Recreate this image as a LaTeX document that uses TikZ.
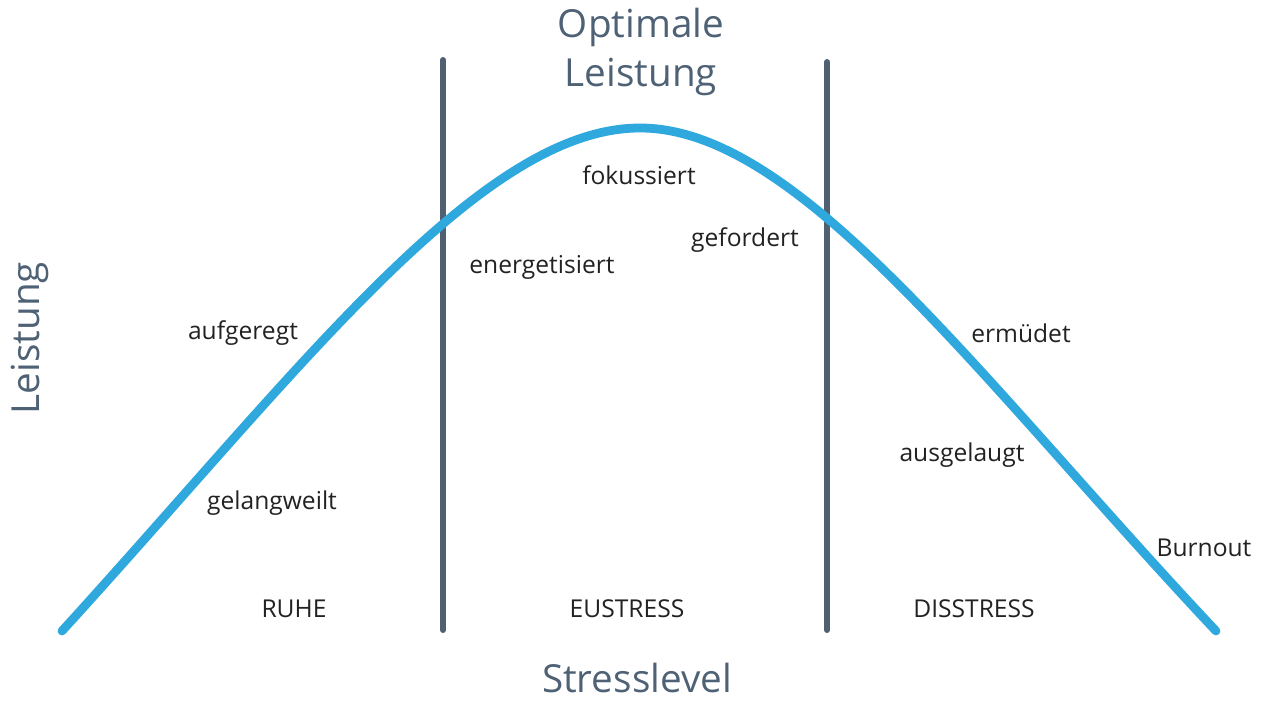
\documentclass[tikz,border=0pt]{standalone}
\usepackage{fontspec}
\setmainfont{Open Sans}
\usepackage{tikz}
\definecolor{curveblue}{HTML}{2EA8DD}
\definecolor{slate}{HTML}{4F6275}
\definecolor{barslate}{HTML}{4E6072}
\definecolor{labelgray}{HTML}{222222}

\begin{document}
\begin{tikzpicture}[line cap=round,line join=round,x=0.02cm,y=-0.02cm,
    lbl/.style={text=labelgray,font=\fontsize{14}{17}\selectfont,inner sep=0pt},
    ttl/.style={text=slate,font=\fontsize{22}{25}\selectfont,inner sep=0pt,align=center}]
            \useasboundingbox (0,0) rectangle (1265,702);
            \draw [barslate,line width=3.4pt] (443,60) -- (443,630);
            \draw [barslate,line width=3.4pt] (827,62) -- (827,630);
            \draw [curveblue,line width=5pt] (62,631) .. controls (300,370) and (480,128) .. (640,128) .. controls (800,128) and (980,380) .. (1216,631);
            \node [ttl] (optimal) at (641,52) {Optimale\\[3pt]Leistung};
            \node [ttl] (xlabel) at (637,678) {Stresslevel};
            \node [ttl,rotate=90] (ylabel) at (30,338) {Leistung};
            \node [lbl] (fokussiert) at (639,175) {fokussiert};
            \node [lbl] (gefordert) at (745,240) {gefordert};
            \node [lbl] (energetisiert) at (542,267) {energetisiert};
            \node [lbl] (aufgeregt) at (243,333) {aufgeregt};
            \node [lbl] (ermuedet) at (1021,333) {ermüdet};
            \node [lbl] (ausgelaugt) at (962,455) {ausgelaugt};
            \node [lbl] (gelangweilt) at (272,503) {gelangweilt};
            \node [lbl] (burnout) at (1204,548) {Burnout};
            \node [lbl] (ruhe) at (294,609) {RUHE};
            \node [lbl] (eustress) at (627,609) {EUSTRESS};
            \node [lbl] (disstress) at (974,609) {DISSTRESS};
\end{tikzpicture}
\end{document}
